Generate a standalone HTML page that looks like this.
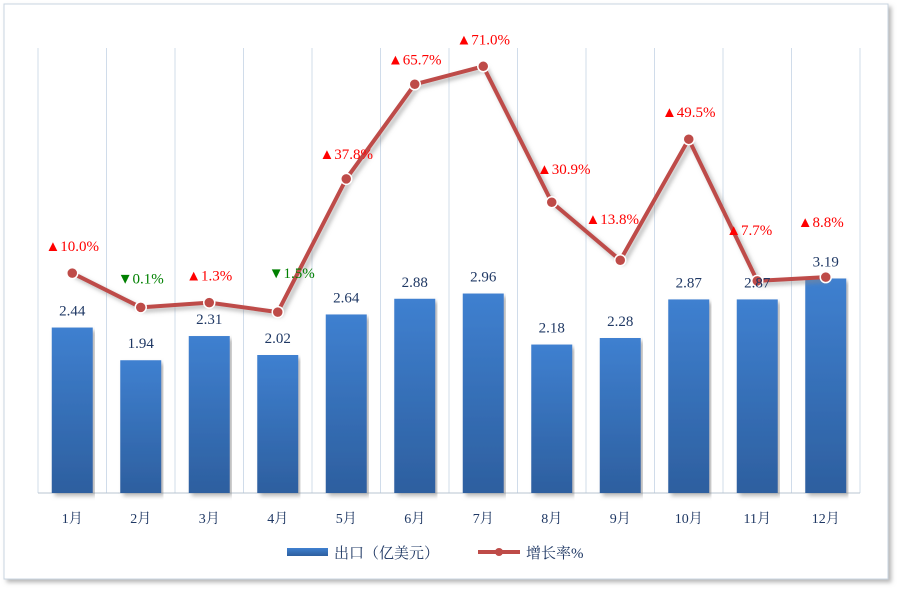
<!DOCTYPE html>
<html><head><meta charset="utf-8">
<style>
html,body{margin:0;padding:0;background:#fff;}
body{width:902px;height:594px;overflow:hidden;font-family:"Liberation Serif","Noto Serif CJK SC",serif;}
</style></head>
<body>
<svg id="chart" width="902" height="594" xmlns="http://www.w3.org/2000/svg">
<defs>
<linearGradient id="barG" x1="0" y1="0" x2="0" y2="1">
<stop offset="0" stop-color="#3f80d0"/><stop offset="1" stop-color="#2d5f9f"/>
</linearGradient>
<filter id="sh" x="-5%" y="-5%" width="110%" height="110%"><feDropShadow dx="3" dy="3" stdDeviation="2" flood-color="#888" flood-opacity="0.6"/></filter>
</defs>
<rect x="4" y="4" width="884" height="575" fill="#fff" stroke="#c8d4e0" stroke-width="1" filter="url(#sh)"/>
<g id="grid"></g><g id="bars"></g><g id="line"></g><g id="labels"></g><g id="xaxis"></g>
<g>
<rect x="287" y="548" width="41" height="8" fill="url(#barG)"/>
<text x="334" y="558" font-size="15" fill="#1f3864">出口（亿美元）</text>
<line x1="478" y1="552" x2="520" y2="552" stroke="#be4b48" stroke-width="4"/>
<circle cx="499" cy="552" r="4" fill="#be4b48"/>
<text x="526" y="558" font-size="15" fill="#1f3864">增长率%</text>
</g>
</svg>
<script>
const categories=["1月","2月","3月","4月","5月","6月","7月","8月","9月","10月","11月","12月"];
const exportValues=[2.44,1.94,2.31,2.02,2.64,2.88,2.96,2.18,2.28,2.87,2.87,3.19];
const growthValues=[10.0,-0.1,1.3,-1.5,37.8,65.7,71.0,30.9,13.8,49.5,7.7,8.8];
const NS="http://www.w3.org/2000/svg";
const left=38,right=860,base=493,step=(right-left)/categories.length;
const xc=i=>left+step*(i+0.5);
const yBar=v=>493-(v+0.09)*65.4;
const yLine=p=>307-p*3.39;
function mk(tag,attrs,parent){const e=document.createElementNS(NS,tag);for(const k in attrs)e.setAttribute(k,attrs[k]);document.getElementById(parent).appendChild(e);return e;}
for(let i=0;i<=categories.length;i++){
 const g=mk('line',{x1:left+step*i,x2:left+step*i,y1:48,y2:base,stroke:'#d0dcea','stroke-width':1},'grid');
 
 
}
const ax=mk('line',{x1:left,x2:right,y1:base,y2:base,stroke:'#b8c4d0','stroke-width':1},'grid');


categories.forEach((c,i)=>{
 const y=yBar(exportValues[i]);
 const b=mk('rect',{x:xc(i)-20.5,y:y,width:41,height:base-y,fill:'url(#barG)',filter:'url(#sh)'},'bars');
 
 
 const t=mk('text',{x:xc(i),y:y-12,'text-anchor':'middle','font-size':15,fill:'#1f3864'},'labels');
 t.textContent=exportValues[i].toFixed(2);
 
 
 const xl=mk('text',{x:xc(i),y:523,'text-anchor':'middle','font-size':14,fill:'#1f3864'},'xaxis');
 xl.textContent=c;
 
 
});
const pts=growthValues.map((p,i)=>xc(i)+','+yLine(p)).join(' ');
const pl=mk('polyline',{points:pts,fill:'none',stroke:'#be4b48','stroke-width':4,'stroke-linejoin':'round',filter:'url(#sh)'},'line');


const offs=[[0,-22],[0,-24],[0,-22],[14,-34],[0,-20],[0,-20],[0,-22],[12,-28],[-8,-36],[0,-22],[-8,-46],[-5,-50]];
growthValues.forEach((p,i)=>{
 const cx=xc(i),cy=yLine(p);
 const m=mk('circle',{cx:cx,cy:cy,r:5.5,fill:'#be4b48',stroke:'#fff','stroke-width':1.5},'line');
 
 
 const neg=p<0;
 const t=mk('text',{x:cx+offs[i][0],y:cy+offs[i][1],'text-anchor':'middle','font-size':15,fill:neg?'#008000':'#ff0000'},'labels');
 t.textContent=(neg?'▼':'▲')+Math.abs(p).toFixed(1)+'%';
 
 
});
</script>
</body></html>
